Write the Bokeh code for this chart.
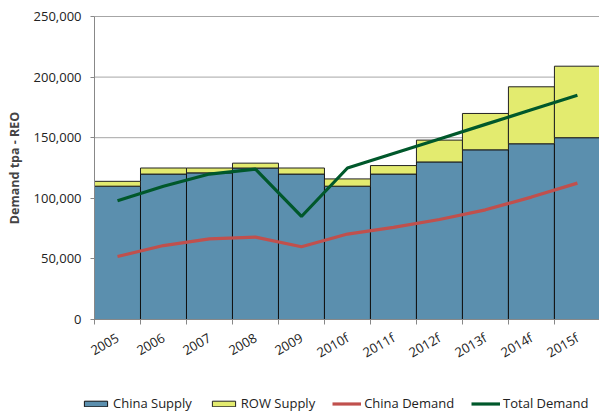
import math
from bokeh.plotting import figure
from bokeh.models import (ColumnDataSource, FixedTicker, NumeralTickFormatter,
                          Legend, LegendItem, Range1d)
from bokeh.embed import file_html
from bokeh.resources import INLINE

years = ["2005", "2006", "2007", "2008", "2009", "2010f", "2011f",
         "2012f", "2013f", "2014f", "2015f"]
china_supply = [110000, 120000, 121000, 125000, 120000, 110000, 120000,
                130000, 140000, 145000, 150000]
row_supply = [4000, 5000, 4000, 4000, 5000, 6000, 7000,
              18000, 30000, 47000, 59000]
china_demand = [52000, 61000, 66500, 68000, 60000, 70500, 76000,
                82500, 90500, 101000, 112500]
total_demand = [98000, 110000, 120000, 124000, 85000, 125000, 137000,
                149000, 161000, 173000, 185000]
y_ticks = [0, 50000, 100000, 150000, 200000, 250000]

FONT = "Open Sans"
BLUE = "#5b8fae"
YELLOW = "#e3eb6f"
RED = "#c0504d"
GREEN = "#00582b"

n = len(years)
centers = [i + 0.5 for i in range(n)]
row_top = [c + r for c, r in zip(china_supply, row_supply)]

# Frame covers the whole figure; axes are drawn at fixed locations so that
# the legend below the axis is inside the drawable area.
FW, FH = 599, 412
PLOT_LEFT, PLOT_TOP, PLOT_H = 94, 16, 303
UX = 505 / 10.98                      # px per category
UY = PLOT_H / y_ticks[-1]             # px per unit
x_start = -PLOT_LEFT / UX
x_end = x_start + FW / UX
y_end = y_ticks[-1] + PLOT_TOP / UY
y_start = -(FH - PLOT_TOP - PLOT_H) / UY

src = ColumnDataSource(dict(x=centers, china=china_supply, row_top=row_top,
                            cd=china_demand, td=total_demand))

p = figure(frame_width=FW, frame_height=FH, output_backend="svg",
           toolbar_location=None,
           x_range=Range1d(x_start, x_end), y_range=Range1d(y_start, y_end),
           min_border_left=0, min_border_right=0, min_border_top=0,
           min_border_bottom=0)
p.outline_line_color = None
p.background_fill_color = "white"
p.border_fill_color = "white"
p.xgrid.grid_line_color = None
p.ygrid.grid_line_color = None

# horizontal gridlines over the plot area only
p.segment(x0=[0] * len(y_ticks), x1=[x_end] * len(y_ticks),
          y0=y_ticks, y1=y_ticks, line_color="#a6a6a6", line_width=1)

b1 = p.vbar(x="x", width=1.0, bottom=0, top="china", source=src,
            fill_color=BLUE, line_color="#111111", line_width=1)
b2 = p.vbar(x="x", width=1.0, bottom="china", top="row_top", source=src,
            fill_color=YELLOW, line_color="#222222", line_width=1)
l1 = p.line(x="x", y="cd", source=src, line_color=RED, line_width=3.2)
l2 = p.line(x="x", y="td", source=src, line_color=GREEN, line_width=3.2)

# y axis
yax = p.yaxis[0]
yax.fixed_location = 0
yax.bounds = (0, y_ticks[-1])
yax.ticker = FixedTicker(ticks=y_ticks)
yax.formatter = NumeralTickFormatter(format="0,0")
yax.axis_label = "Demand tpa - REO"
yax.axis_label_text_font = FONT
yax.axis_label_text_font_style = "bold"
yax.axis_label_text_font_size = "12.5px"
yax.axis_label_standoff = 8
yax.major_label_text_font = FONT
yax.major_label_text_font_size = "13px"
yax.major_label_text_color = "#222222"
yax.major_label_standoff = 9
yax.axis_line_color = "#888888"
yax.major_tick_line_color = "#888888"
yax.major_tick_out = 4
yax.major_tick_in = 0
yax.minor_tick_line_color = None

# x axis: labels at centers, tick marks at boundaries
xax = p.xaxis[0]
xax.fixed_location = 0
xax.bounds = (0, n)
xax.ticker = FixedTicker(ticks=centers, minor_ticks=list(range(n + 1)))
xax.major_label_overrides = {c: y for c, y in zip(centers, years)}
xax.major_label_orientation = 0.52
xax.major_label_text_font = FONT
xax.major_label_text_font_size = "13px"
xax.major_label_text_color = "#222222"
xax.major_label_standoff = 11
xax.major_tick_line_color = None
xax.minor_tick_line_color = "#888888"
xax.minor_tick_out = 5
xax.minor_tick_in = 0
xax.axis_line_color = "#888888"

legend = Legend(items=[LegendItem(label="China Supply", renderers=[b1]),
                       LegendItem(label="ROW Supply", renderers=[b2]),
                       LegendItem(label="China Demand", renderers=[l1]),
                       LegendItem(label="Total Demand", renderers=[l2])],
                orientation="horizontal", location=(81, 0),
                glyph_width=29, glyph_height=7, label_standoff=3,
                spacing=17, padding=0, margin=0,
                label_text_font=FONT, label_text_font_size="13px",
                label_text_color="#222222", label_height=14,
                border_line_color=None, background_fill_alpha=0)
p.add_layout(legend, "center")

open("out.html", "w").write(file_html(p, INLINE))
